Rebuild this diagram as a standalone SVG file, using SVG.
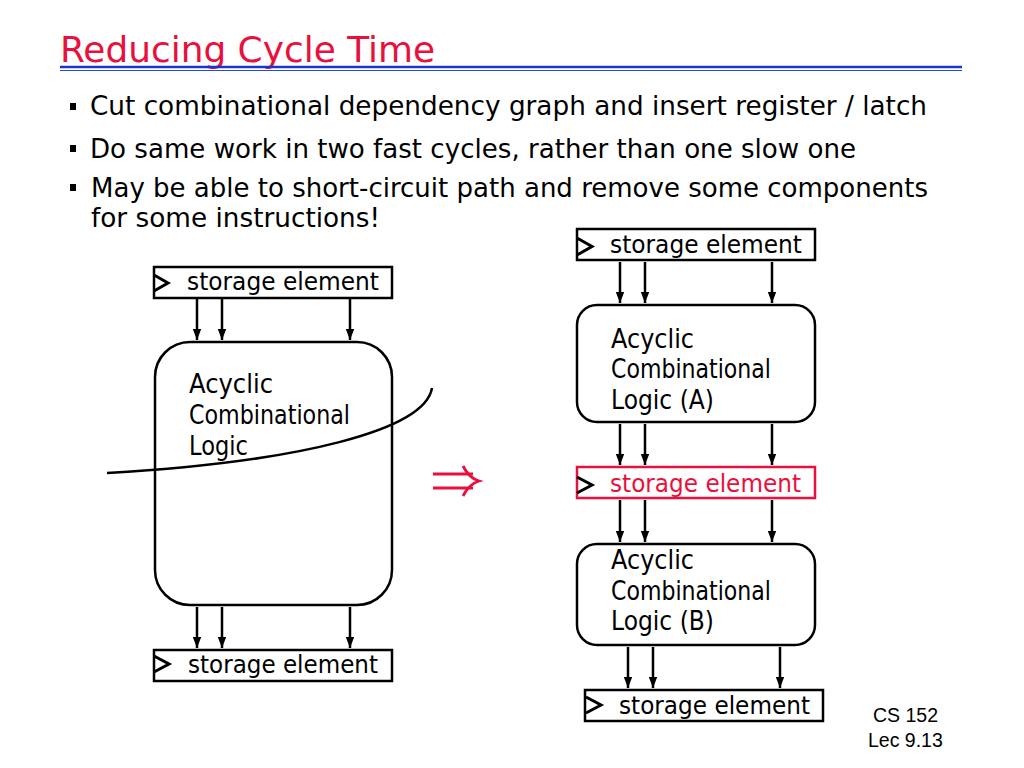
<svg xmlns="http://www.w3.org/2000/svg" width="1024" height="768" viewBox="0 0 1024 768">
<defs>
<style>
.t{font-family:"DejaVu Sans","Noto Sans",sans-serif;fill:#000}
.title{font-size:36px;fill:#e8103c}
.b{font-size:27px}
.d{font-size:26px}
.s{font-size:25px}
.box{fill:#fff;stroke:#000;stroke-width:2.5}
.clk{fill:none;stroke:#000;stroke-width:3;stroke-linejoin:miter}
.ar{stroke:#000;stroke-width:2.5;fill:none;marker-end:url(#ah)}
.foot{font-family:"Liberation Sans",Arial,sans-serif;font-size:19.5px;fill:#000}
</style>
<marker id="ah" markerWidth="10" markerHeight="12" refX="11" refY="5" orient="auto" markerUnits="userSpaceOnUse">
<path d="M0,0.8 L11,5 L0,9.2 z" fill="#000"/>
</marker>
</defs>
<rect width="1024" height="768" fill="#fff"/>

<g id="title">
<text class="t title" x="60" y="62" textLength="375" lengthAdjust="spacingAndGlyphs">Reducing Cycle Time</text>
<line x1="60" y1="67" x2="962" y2="67" stroke="#1a35d0" stroke-width="2.6"/>
<line x1="60" y1="70.5" x2="962" y2="70.5" stroke="#2a45d8" stroke-width="1.2"/>
</g>

<g id="bullets">
<rect x="70" y="103" width="6" height="7" fill="#000"/>
<text class="t b" x="90" y="115" textLength="837" lengthAdjust="spacingAndGlyphs">Cut combinational dependency graph and insert register / latch</text>
<rect x="70" y="145" width="6" height="7" fill="#000"/>
<text class="t b" x="90" y="158" textLength="766" lengthAdjust="spacingAndGlyphs">Do same work in two fast cycles, rather than one slow one</text>
<rect x="70" y="184" width="6" height="7" fill="#000"/>
<text class="t b" x="91" y="197" textLength="837" lengthAdjust="spacingAndGlyphs">May be able to short-circuit path and remove some components</text>
<text class="t b" x="91" y="227" textLength="289" lengthAdjust="spacingAndGlyphs">for some instructions!</text>
</g>

<!-- Left diagram -->
<g id="left-top-storage">
<rect class="box" x="154" y="267" width="238" height="31"/>
<polyline class="clk" points="154,275 168,283 154,291"/>
<text class="t s" x="187" y="290" textLength="192" lengthAdjust="spacingAndGlyphs">storage element</text>
</g>
<g id="left-logic">
<rect class="box" x="155" y="342" width="237" height="263" rx="35" ry="35"/>
<text class="t d" x="189" y="393" textLength="84" lengthAdjust="spacingAndGlyphs">Acyclic</text>
<text class="t d" x="189" y="424" textLength="161" lengthAdjust="spacingAndGlyphs">Combinational</text>
<text class="t d" x="189" y="455" textLength="59" lengthAdjust="spacingAndGlyphs">Logic</text>
</g>
<g id="left-bottom-storage">
<rect class="box" x="154" y="650" width="238" height="31"/>
<polyline class="clk" points="154,656 169,664 154,672"/>
<text class="t s" x="188" y="673" textLength="190" lengthAdjust="spacingAndGlyphs">storage element</text>
</g>
<g id="cut-line">
<path d="M107,473 C300,462 425,430 432,388" fill="none" stroke="#000" stroke-width="2.5"/>
</g>

<g id="implies">
<line x1="433" y1="474" x2="473" y2="474" stroke="#e8103c" stroke-width="2.8"/>
<line x1="433" y1="488" x2="473" y2="488" stroke="#e8103c" stroke-width="2.8"/>
<path d="M463,466 Q469,478 479,481 Q469,484 463,496" fill="none" stroke="#e8103c" stroke-width="2.8"/>
</g>

<!-- Right diagram -->
<g id="right-top-storage">
<rect class="box" x="577" y="229" width="238" height="31"/>
<polyline class="clk" points="577,238 592,246.5 577,255"/>
<text class="t s" x="610" y="253" textLength="192" lengthAdjust="spacingAndGlyphs">storage element</text>
</g>
<g id="logic-a">
<rect class="box" x="577" y="305" width="238" height="117" rx="20" ry="20"/>
<text class="t d" x="611" y="348" textLength="83" lengthAdjust="spacingAndGlyphs">Acyclic</text>
<text class="t d" x="611" y="378" textLength="160" lengthAdjust="spacingAndGlyphs">Combinational</text>
<text class="t d" x="611" y="409" textLength="103" lengthAdjust="spacingAndGlyphs">Logic (A)</text>
</g>
<g id="mid-storage">
<rect x="577" y="467" width="238" height="31" fill="#fff" stroke="#e8103c" stroke-width="2.5"/>
<polyline class="clk" points="577,477 592,485 577,493"/>
<text class="t s" x="610" y="492" textLength="191" lengthAdjust="spacingAndGlyphs" style="fill:#e8103c">storage element</text>
</g>
<g id="logic-b">
<rect class="box" x="577" y="544" width="238" height="101" rx="20" ry="20"/>
<text class="t d" x="611" y="569" textLength="83" lengthAdjust="spacingAndGlyphs">Acyclic</text>
<text class="t d" x="611" y="600" textLength="160" lengthAdjust="spacingAndGlyphs">Combinational</text>
<text class="t d" x="611" y="630" textLength="103" lengthAdjust="spacingAndGlyphs">Logic (B)</text>
</g>
<g id="right-bottom-storage">
<rect class="box" x="585" y="690" width="238" height="31"/>
<polyline class="clk" points="586,697 601,705 586,713"/>
<text class="t s" x="619" y="714" textLength="191" lengthAdjust="spacingAndGlyphs">storage element</text>
</g>

<g id="connectors">
<line class="ar" x1="197" y1="299" x2="197" y2="340"/>
<line class="ar" x1="222" y1="299" x2="222" y2="340"/>
<line class="ar" x1="350" y1="299" x2="350" y2="340"/>
<line class="ar" x1="197" y1="607" x2="197" y2="648"/>
<line class="ar" x1="222" y1="607" x2="222" y2="648"/>
<line class="ar" x1="350" y1="607" x2="350" y2="648"/>
<line class="ar" x1="620" y1="262" x2="620" y2="303"/>
<line class="ar" x1="645" y1="262" x2="645" y2="303"/>
<line class="ar" x1="772" y1="262" x2="772" y2="303"/>
<line class="ar" x1="620" y1="424" x2="620" y2="465"/>
<line class="ar" x1="645" y1="424" x2="645" y2="465"/>
<line class="ar" x1="772" y1="424" x2="772" y2="465"/>
<line class="ar" x1="620" y1="500" x2="620" y2="542"/>
<line class="ar" x1="645" y1="500" x2="645" y2="542"/>
<line class="ar" x1="772" y1="500" x2="772" y2="542"/>
<line class="ar" x1="628" y1="647" x2="628" y2="688"/>
<line class="ar" x1="653" y1="647" x2="653" y2="688"/>
<line class="ar" x1="780" y1="647" x2="780" y2="688"/>
</g>

<g id="footer">
<text class="foot" x="873" y="722">CS 152</text>
<text class="foot" x="868" y="747">Lec 9.13</text>
</g>
</svg>
